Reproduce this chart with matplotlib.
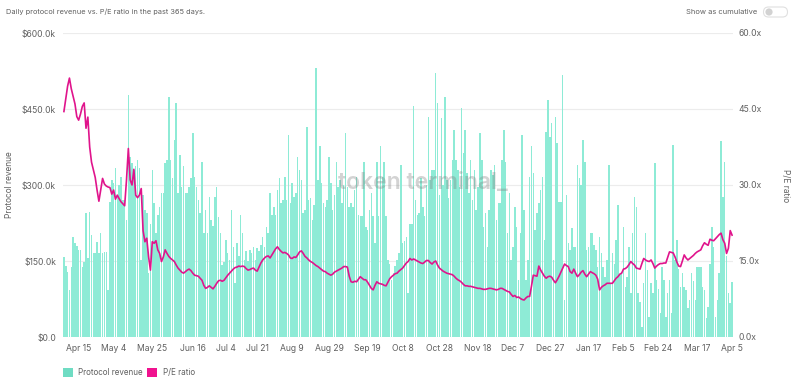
import matplotlib
matplotlib.use('Agg')
import matplotlib.pyplot as plt
import numpy as np
import pandas as pd
from matplotlib.patches import Rectangle, FancyBboxPatch, Circle

# ---------------- data ----------------
start_date = '2022-04-07'

revenue_k = [
    157, 140, 129, 93, 139, 198, 185, 180, 172, 171, 139, 149, 244, 155, 246, 201, 165, 165, 188, 165,
    205, 165, 168, 168, 93, 267, 310, 303, 333, 280,
    300, 316, 270, 270, 231, 478, 356, 343, 330, 337, 349, 333, 152, 280, 251, 244, 126, 224, 330, 264,
    205, 240, 257, 284, 284, 343, 349, 474, 349, 313,
    389, 461, 284, 359, 297, 337, 284, 284, 297, 313, 402, 316, 297, 270, 244, 346, 205, 251, 205, 277,
    231, 220, 277, 297, 237, 205, 142, 149, 191, 165,
    152, 251, 178, 106, 185, 160, 240, 205, 152, 170, 150, 172, 165, 178, 152, 175, 170, 182, 198, 178,
    218, 205, 284, 240, 257, 240, 290, 313, 264, 270,
    316, 270, 399, 264, 303, 277, 284, 356, 330,
    310, 244, 250, 415, 270, 274, 231, 260, 530, 310, 376, 303, 264, 257, 270, 356, 303, 251, 280, 346,
    297, 310, 264, 300, 402, 297, 257, 264, 257, 290, 316,
    240, 238, 238, 346, 218, 211, 250, 284, 238, 185, 346, 238, 376, 316, 346, 238, 152, 145, 113, 126,
    140, 152, 165, 340, 185, 190, 198, 86, 224, 224,
    455, 270, 241, 244, 313, 257, 238, 300, 435, 310, 330, 330, 521, 461, 280, 432, 300, 474, 310, 274,
    310, 350, 409, 350, 330, 297, 451, 363, 409, 323,
    284, 349, 270, 330, 251, 297, 402, 349, 218, 244, 178, 250, 330, 320, 340, 231, 264, 264, 349, 409,
    346, 205, 284, 152, 178, 257, 218, 113, 205, 399, 251, 113, 152, 316,
    377, 323, 211, 244, 264, 290, 316, 191, 405, 468, 395, 422, 152, 435, 382, 267, 267, 517, 73, 280,
    185, 172, 215, 178, 178, 340, 313, 300, 389, 346,
    172, 178, 205, 205, 182, 172, 139, 198, 165, 139, 119, 152, 340, 106, 165, 145, 191, 261, 125, 129,
    218, 99, 119, 178, 86, 205, 277, 257, 86, 70,
    20, 106, 205, 132, 40, 106, 86, 343, 113, 95, 47, 139, 113, 40, 86, 113, 47, 379, 152, 191,
    135, 99, 126, 99, 93, 57, 73, 126, 110, 73,
    139, 139, 139, 99, 93, 37, 60, 145, 218, 178, 40, 73, 126, 386, 277, 346, 160, 87, 67, 109,
]

pe_ratio = [
    44.5, 47, 49.5, 51.1, 49, 47.5, 46, 43.5, 42.8, 44, 45.5, 46.2, 41.2, 43.4, 37.5, 34.5, 33, 31.5, 29, 26.8,
    29, 31.3, 30.2, 29.8, 29.6, 29.5, 28.2, 29, 27.2, 28, 27.3, 26.7, 26.3, 25.9, 31, 37.2, 31, 30, 33.1, 28,
    27.5, 28, 29.3, 21, 18.8, 19.5, 15.8, 13.2, 18.8,
    18.5, 19, 17.2, 16.5, 14.9, 15.8, 17.2, 16.5, 15.9, 15.5, 15.2, 14.9, 14.2, 13.6, 13.2, 12.8, 12.6, 12.9, 13.2, 13.4,
    13.1, 12.6, 12.2, 12.1, 12, 11.6, 11.2, 10.2, 9.6, 9.8, 10.1, 9.8, 9.5, 10, 10.6, 11.1, 11.2, 11, 11.2, 11.7,
    12.2, 12.6, 13, 13.4, 13.7, 13.8, 14, 13.9, 14, 13.9,
    13.5, 13.2, 13.3, 13.5, 13.6, 13.2, 13, 13.8, 14.6, 15.2, 15.6, 15.9, 16, 15.6, 16.2, 16.8, 17.4, 17.8, 17.3, 16.9,
    16.6, 16.7, 16.5, 16.2, 15.6, 15.5, 15.8, 15.7, 16.2, 16.8, 17, 16.5, 15.9, 15.6, 15.2, 14.9, 14.7, 14.4, 14.1, 13.9,
    13.6, 13.3, 13, 12.9, 12.6, 12.4, 12.2, 12.4, 12.8, 13,
    13.2, 13.4, 13.6, 13.9, 13.9, 13.8, 12, 10.9, 10.8, 11, 10.9, 11.4, 11.9, 11.6, 11.3, 11.3, 10.8, 10.2, 9.6, 9.3,
    10.2, 10.9, 10.6, 10.5, 10.4, 10.2, 10.1, 10.8, 11.5, 11.9, 12.2, 12.5, 12.6, 13, 13.3, 13.6, 14.1, 14.6, 14.9, 15.5,
    15.2, 15.4, 15.2, 15, 14.8, 14.6, 14.5, 14.8, 15.1, 15.1,
    14.7, 14.4, 14.8, 15, 14.2, 13.6, 13.3, 13, 12.8, 12.6, 12.5, 12.4, 12.3, 12, 11.6, 11.3, 11.1, 10.8, 10.4, 10.1,
    10.1, 10, 10, 9.9, 9.8, 9.7, 9.6, 9.6, 9.5, 9.4, 9.4, 9.5, 9.6, 9.6, 9.5, 9.4, 9.3, 9.4, 9.6, 9.6,
    9.4, 9.2, 9, 8.9, 8.4, 8, 8.2, 7.8, 7.9, 7.6,
    7.4, 7.3, 7.7, 8, 8, 10, 12.2, 12.1, 12, 14, 13.2, 12.6, 12, 11.6, 11.9, 12, 11.8, 11.2, 10.7, 11.3,
    12, 12.8, 13.6, 14.4, 14.1, 13.9, 12.9, 12.6, 13.4, 12.6, 11.9, 12.3, 12.8, 13.1, 12.4, 11.9, 12.4, 12.9, 12.7, 12.5,
    12.2, 11.4, 9.3, 9.8, 10.1, 10.3, 10.6, 10.6, 10.6, 10.6,
    11.1, 11.6, 11.9, 12.4, 12.6, 13.4, 13.5, 13.8, 14.3, 14.9, 14.5, 14.2, 13.6, 13.5, 13.4, 14.5, 15.5, 15.2, 15, 14.9,
    15.2, 14.5, 13.6, 14, 14.3, 14.5, 14.5, 14.6, 14.6, 15.7, 16.8, 16.7, 16.6, 15.8, 14.8, 14, 13.9, 15, 16.2, 15.6,
    15.2, 15.5, 15.8, 16.1, 16.5, 16.8, 17, 17.2, 18, 18.6,
    18.3, 18.1, 19.3, 19.1, 19, 19.4, 19.8, 20.2, 20.5, 19.2, 18.5, 16.5, 17.5, 21, 20.1,
]

tick_dates = ['2022-04-15', '2022-05-04', '2022-05-25', '2022-06-16', '2022-07-04', '2022-07-21',
              '2022-08-09', '2022-08-29', '2022-09-19', '2022-10-08', '2022-10-28', '2022-11-18',
              '2022-12-07', '2022-12-27', '2023-01-17', '2023-02-05', '2023-02-24', '2023-03-17',
              '2023-04-05']
tick_labels = ['Apr 15', 'May 4', 'May 25', 'Jun 16', 'Jul 4', 'Jul 21', 'Aug 9', 'Aug 29', 'Sep 19',
               'Oct 8', 'Oct 28', 'Nov 18', 'Dec 7', 'Dec 27', 'Jan 17', 'Feb 5', 'Feb 24', 'Mar 17', 'Apr 5']

rev_ticks = [0, 150000, 300000, 450000, 600000]
rev_tick_labels = ['$0.0', '$150.0k', '$300.0k', '$450.0k', '$600.0k']
pe_ticks = [0, 15, 30, 45, 60]
pe_tick_labels = ['0.0x', '15.0x', '30.0x', '45.0x', '60.0x']

# ---------------- plot ----------------
plt.rcParams['font.family'] = ['Inter', 'DejaVu Sans']
TXT = '#606060'

W, H = 794, 382
fig = plt.figure(figsize=(W / 100, H / 100), dpi=100)
fig.patch.set_facecolor('white')

dates = pd.date_range(start_date, periods=len(revenue_k), freq='D')
pe_dates = pd.date_range(start_date, periods=len(pe_ratio), freq='D')

ax = fig.add_axes([63 / W, (H - 337) / H, 670 / W, 304 / H])
ax.bar(dates, np.array(revenue_k) * 1000.0, width=0.82, color='#8EEBD6', linewidth=0, zorder=2)
ax.set_ylim(0, 600000)
ax.set_xlim(dates[0] - pd.Timedelta(hours=12), dates[-1] + pd.Timedelta(hours=12))
ax.set_yticks(rev_ticks)
ax.set_yticklabels(rev_tick_labels)
ax.set_xticks(pd.to_datetime(tick_dates))
ax.set_xticklabels(tick_labels)
ax.yaxis.grid(True, color='#ececec', linewidth=0.8, zorder=0)
ax.set_axisbelow(True)
for s in ax.spines.values():
    s.set_visible(False)
ax.tick_params(axis='both', length=0, labelsize=6.2, colors=TXT)
ax.tick_params(axis='y', pad=5)
ax.tick_params(axis='x', pad=5)

ax2 = ax.twinx()
ax2.plot(pe_dates, pe_ratio, color='#E0148C', linewidth=1.2, zorder=3)
ax2.set_ylim(0, 60)
ax2.set_yticks(pe_ticks)
ax2.set_yticklabels(pe_tick_labels)
for s in ax2.spines.values():
    s.set_visible(False)
ax2.tick_params(axis='y', length=0, labelsize=6.2, colors=TXT, pad=4)

# watermark
ax.text(0.537, 0.505, 'token terminal_', transform=ax.transAxes, ha='center', va='center',
        fontsize=16.5, color='#7a7a7a', alpha=0.33, fontweight='semibold', zorder=5)

# titles / labels
fig.text(6 / W, 1 - 12 / H, 'Daily protocol revenue vs. P/E ratio in the past 365 days.',
         fontsize=5.3, color=TXT, ha='left', va='center')
fig.text(10 / W, 1 - 185 / H, 'Protocol revenue', rotation=90, fontsize=6.0, color=TXT,
         ha='center', va='center')
fig.text(785 / W, 1 - 186 / H, 'P/E ratio', rotation=-90, fontsize=6.0, color=TXT,
         ha='center', va='center')

# toggle (drawn in a small pixel-scaled axes)
fig.text(757 / W, 1 - 12 / H, 'Show as cumulative', fontsize=5.4, color=TXT, ha='right', va='center')
tax = fig.add_axes([762 / W, (H - 19) / H, 27 / W, 14 / H])
tax.set_xlim(0, 27)
tax.set_ylim(0, 14)
tax.axis('off')
tax.add_patch(FancyBboxPatch((1.5, 2), 24, 10, boxstyle='round,pad=0,rounding_size=5',
                             facecolor='white', edgecolor='#e0e0e0', linewidth=0.8))
tax.add_patch(Circle((7, 7), 3.6, facecolor='#d2d2d2', edgecolor='none'))

# legend
fig.patches.append(Rectangle((63 / W, 1 - 377 / H), 10 / W, 9 / H, transform=fig.transFigure,
                             facecolor='#6FDCC3', edgecolor='none'))
fig.text(78 / W, 1 - 372.5 / H, 'Protocol revenue', fontsize=5.8, color=TXT, ha='left', va='center')
fig.patches.append(Rectangle((147 / W, 1 - 377 / H), 10 / W, 9 / H, transform=fig.transFigure,
                             facecolor='#F0128F', edgecolor='none'))
fig.text(163 / W, 1 - 372.5 / H, 'P/E ratio', fontsize=5.8, color=TXT, ha='left', va='center')

fig.savefig('out.png', dpi=100, facecolor='white')
